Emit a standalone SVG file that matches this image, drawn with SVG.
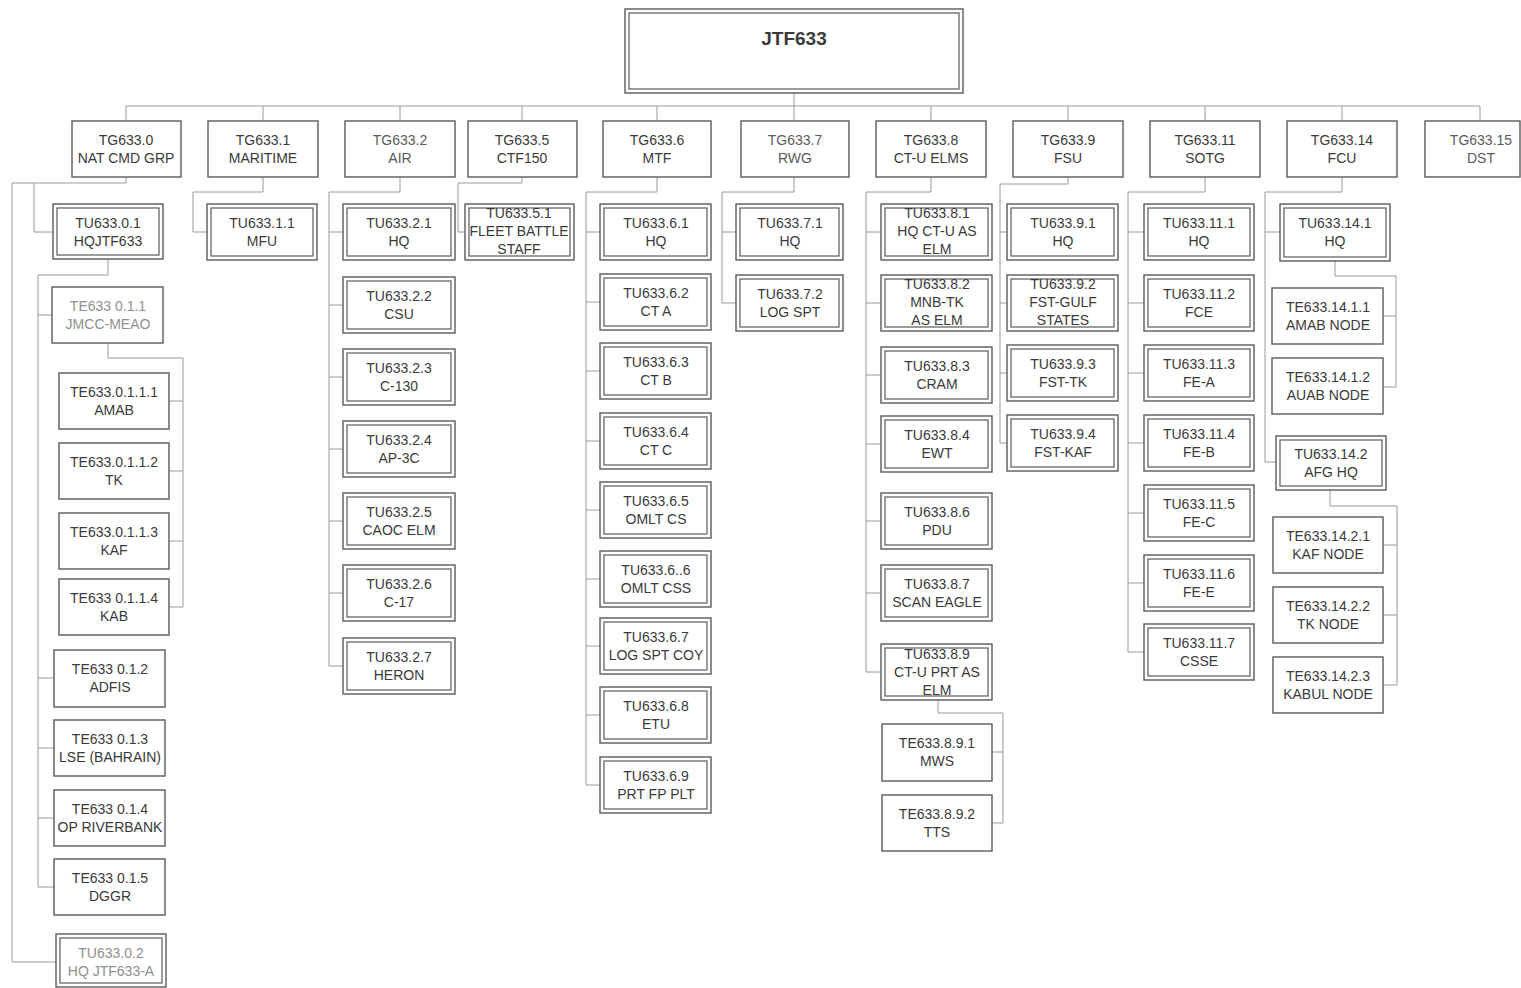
<svg xmlns="http://www.w3.org/2000/svg" width="1521" height="988" viewBox="0 0 1521 988">
<style>
.bg{fill:#ffffff}
rect.b{fill:#ffffff;stroke:#5a5a5a;stroke-width:1.4}
rect.i{fill:none;stroke:#5a5a5a;stroke-width:1.2}
text{font-family:"Liberation Sans",Arial,sans-serif;font-size:14px;fill:#3a3a3a;text-anchor:middle}
text.lt{fill:#8f8f8f}
text.md{fill:#5a5a5a}
text.title{font-size:19px;font-weight:bold;fill:#3a3a3a}
#connectors path{fill:none;stroke:#9a9a9a;stroke-width:1}
</style>
<rect class="bg" x="0" y="0" width="1521" height="988"/>

<g id="connectors">
<path d="M794 93V106M126 106H1480M126 106V121M263 106V121M400 106V121M522 106V121M657 106V121M794 106V121M931 106V121M1068 106V121M1205 106V121M1342 106V121M1480 106V121"/>
<!-- TG633.0 -->
<path d="M126 177V183M12 183H126M12 183V962H56M34 183V232H53"/>
<path d="M108 259V275M38 275H108M38 275V887M38 315H52M38 678H54M38 748H54M38 818H54M38 887H54"/>
<path d="M108 343V358H183V607M169 401H183M169 471H183M169 541H183M169 607H183"/>
<!-- TG633.1 -->
<path d="M263 177V192H193V232H207"/>
<!-- TG633.2 -->
<path d="M400 177V192H329V666M329 232H343M329 305H343M329 377H343M329 449H343M329 521H343M329 593H343M329 666H343"/>
<!-- TG633.5 -->
<path d="M522 177V183H458V232H465"/>
<!-- TG633.6 -->
<path d="M657 177V192H586V785M586 232H600M586 302H600M586 371H600M586 441H600M586 510H600M586 579H600M586 646H600M586 715H600M586 785H600"/>
<!-- TG633.7 -->
<path d="M794 177V192H722V303M722 232H736M722 303H736"/>
<!-- TG633.8 -->
<path d="M931 177V192H866V672M866 232H881M866 303H881M866 375H881M866 444H881M866 521H881M866 593H881M866 672H881"/>
<path d="M938 700V713H1003V823M992 752H1003M992 823H1003"/>
<!-- TG633.9 -->
<path d="M1068 177V184H1000V443M1000 232H1007M1000 303H1007M1000 373H1007M1000 443H1007"/>
<!-- TG633.11 -->
<path d="M1205 177V192H1128V652M1128 232H1144M1128 303H1144M1128 373H1144M1128 443H1144M1128 513H1144M1128 583H1144M1128 652H1144"/>
<!-- TG633.14 -->
<path d="M1342 177V192H1265V462M1265 232H1280M1265 462H1276"/>
<path d="M1335 261V276H1396V387M1383 316H1396M1383 387H1396"/>
<path d="M1330 490V506H1397V685M1383 545H1397M1383 615H1397M1383 685H1397"/>
</g>

<g id="JTF633">
<rect class="b" x="625" y="9" width="338" height="84"/>
<rect class="i" x="629" y="13" width="330" height="76"/>
<text class="title" x="794" y="45">JTF633</text>
</g>

<!-- Task groups -->
<g id="TG633.0"><rect class="b" x="72" y="121" width="109" height="56"/><text x="126" y="145">TG633.0</text><text x="126" y="163">NAT CMD GRP</text></g>
<g id="TG633.1"><rect class="b" x="208" y="121" width="110" height="56"/><text x="263" y="145">TG633.1</text><text x="263" y="163">MARITIME</text></g>
<g id="TG633.2"><rect class="b" x="345" y="121" width="110" height="56"/><text class="md" x="400" y="145">TG633.2</text><text class="md" x="400" y="163">AIR</text></g>
<g id="TG633.5"><rect class="b" x="468" y="121" width="109" height="56"/><text x="522" y="145">TG633.5</text><text x="522" y="163">CTF150</text></g>
<g id="TG633.6"><rect class="b" x="603" y="121" width="108" height="56"/><text x="657" y="145">TG633.6</text><text x="657" y="163">MTF</text></g>
<g id="TG633.7"><rect class="b" x="741" y="121" width="108" height="56"/><text class="md" x="795" y="145">TG633.7</text><text class="md" x="795" y="163">RWG</text></g>
<g id="TG633.8"><rect class="b" x="876" y="121" width="110" height="56"/><text x="931" y="145">TG633.8</text><text x="931" y="163">CT-U ELMS</text></g>
<g id="TG633.9"><rect class="b" x="1013" y="121" width="110" height="56"/><text x="1068" y="145">TG633.9</text><text x="1068" y="163">FSU</text></g>
<g id="TG633.11"><rect class="b" x="1150" y="121" width="110" height="56"/><text x="1205" y="145">TG633.11</text><text x="1205" y="163">SOTG</text></g>
<g id="TG633.14"><rect class="b" x="1287" y="121" width="110" height="56"/><text x="1342" y="145">TG633.14</text><text x="1342" y="163">FCU</text></g>
<g id="TG633.15"><rect class="b" x="1425" y="121" width="95" height="56"/><text class="md" x="1481" y="145">TG633.15</text><text class="md" x="1481" y="163">DST</text></g>

<!-- TG633.0 branch -->
<g id="TU633.0.1"><rect class="b" x="53" y="204" width="110" height="55"/><rect class="i" x="57" y="208" width="102" height="47"/><text x="108" y="228">TU633.0.1</text><text x="108" y="246">HQJTF633</text></g>
<g id="TE633.0.1.1"><rect class="b" x="52" y="287" width="111" height="56"/><text class="lt" x="108" y="311">TE633 0.1.1</text><text class="lt" x="108" y="329">JMCC-MEAO</text></g>
<g id="TE633.0.1.1.1"><rect class="b" x="59" y="373" width="110" height="56"/><text x="114" y="397">TE633.0.1.1.1</text><text x="114" y="415">AMAB</text></g>
<g id="TE633.0.1.1.2"><rect class="b" x="59" y="443" width="110" height="56"/><text x="114" y="467">TE633.0.1.1.2</text><text x="114" y="485">TK</text></g>
<g id="TE633.0.1.1.3"><rect class="b" x="59" y="513" width="110" height="56"/><text x="114" y="537">TE633.0.1.1.3</text><text x="114" y="555">KAF</text></g>
<g id="TE633.0.1.1.4"><rect class="b" x="59" y="579" width="110" height="56"/><text x="114" y="603">TE633 0.1.1.4</text><text x="114" y="621">KAB</text></g>
<g id="TE633.0.1.2"><rect class="b" x="54" y="650" width="111" height="57"/><text x="110" y="674">TE633 0.1.2</text><text x="110" y="692">ADFIS</text></g>
<g id="TE633.0.1.3"><rect class="b" x="54" y="720" width="111" height="56"/><text x="110" y="744">TE633 0.1.3</text><text x="110" y="762">LSE (BAHRAIN)</text></g>
<g id="TE633.0.1.4"><rect class="b" x="54" y="790" width="111" height="56"/><text x="110" y="814">TE633 0.1.4</text><text x="110" y="832">OP RIVERBANK</text></g>
<g id="TE633.0.1.5"><rect class="b" x="54" y="859" width="111" height="56"/><text x="110" y="883">TE633 0.1.5</text><text x="110" y="901">DGGR</text></g>
<g id="TU633.0.2"><rect class="b" x="56" y="934" width="110" height="53"/><rect class="i" x="60" y="938" width="102" height="45"/><text class="lt" x="111" y="958">TU633.0.2</text><text class="lt" x="111" y="976">HQ JTF633-A</text></g>

<!-- TG633.1 -->
<g id="TU633.1.1"><rect class="b" x="207" y="204" width="110" height="56"/><rect class="i" x="211" y="208" width="102" height="48"/><text x="262" y="228">TU633.1.1</text><text x="262" y="246">MFU</text></g>

<!-- TG633.2 -->
<g id="TU633.2.1"><rect class="b" x="343" y="204" width="112" height="56"/><rect class="i" x="347" y="208" width="104" height="48"/><text x="399" y="228">TU633.2.1</text><text x="399" y="246">HQ</text></g>
<g id="TU633.2.2"><rect class="b" x="343" y="277" width="112" height="56"/><rect class="i" x="347" y="281" width="104" height="48"/><text x="399" y="301">TU633.2.2</text><text x="399" y="319">CSU</text></g>
<g id="TU633.2.3"><rect class="b" x="343" y="349" width="112" height="56"/><rect class="i" x="347" y="353" width="104" height="48"/><text x="399" y="373">TU633.2.3</text><text x="399" y="391">C-130</text></g>
<g id="TU633.2.4"><rect class="b" x="343" y="421" width="112" height="56"/><rect class="i" x="347" y="425" width="104" height="48"/><text x="399" y="445">TU633.2.4</text><text x="399" y="463">AP-3C</text></g>
<g id="TU633.2.5"><rect class="b" x="343" y="493" width="112" height="56"/><rect class="i" x="347" y="497" width="104" height="48"/><text x="399" y="517">TU633.2.5</text><text x="399" y="535">CAOC ELM</text></g>
<g id="TU633.2.6"><rect class="b" x="343" y="565" width="112" height="56"/><rect class="i" x="347" y="569" width="104" height="48"/><text x="399" y="589">TU633.2.6</text><text x="399" y="607">C-17</text></g>
<g id="TU633.2.7"><rect class="b" x="343" y="638" width="112" height="56"/><rect class="i" x="347" y="642" width="104" height="48"/><text x="399" y="662">TU633.2.7</text><text x="399" y="680">HERON</text></g>

<!-- TG633.5 -->
<g id="TU633.5.1"><rect class="b" x="465" y="204" width="109" height="56"/><rect class="i" x="469" y="208" width="101" height="48"/><text x="519" y="218">TU633.5.1</text><text x="519" y="236">FLEET BATTLE</text><text x="519" y="254">STAFF</text></g>

<!-- TG633.6 -->
<g id="TU633.6.1"><rect class="b" x="600" y="204" width="111" height="56"/><rect class="i" x="604" y="208" width="103" height="48"/><text x="656" y="228">TU633.6.1</text><text x="656" y="246">HQ</text></g>
<g id="TU633.6.2"><rect class="b" x="600" y="274" width="111" height="56"/><rect class="i" x="604" y="278" width="103" height="48"/><text x="656" y="298">TU633.6.2</text><text x="656" y="316">CT A</text></g>
<g id="TU633.6.3"><rect class="b" x="600" y="343" width="111" height="56"/><rect class="i" x="604" y="347" width="103" height="48"/><text x="656" y="367">TU633.6.3</text><text x="656" y="385">CT B</text></g>
<g id="TU633.6.4"><rect class="b" x="600" y="413" width="111" height="56"/><rect class="i" x="604" y="417" width="103" height="48"/><text x="656" y="437">TU633.6.4</text><text x="656" y="455">CT C</text></g>
<g id="TU633.6.5"><rect class="b" x="600" y="482" width="111" height="56"/><rect class="i" x="604" y="486" width="103" height="48"/><text x="656" y="506">TU633.6.5</text><text x="656" y="524">OMLT CS</text></g>
<g id="TU633.6.6"><rect class="b" x="600" y="551" width="111" height="56"/><rect class="i" x="604" y="555" width="103" height="48"/><text x="656" y="575">TU633.6..6</text><text x="656" y="593">OMLT CSS</text></g>
<g id="TU633.6.7"><rect class="b" x="600" y="618" width="111" height="56"/><rect class="i" x="604" y="622" width="103" height="48"/><text x="656" y="642">TU633.6.7</text><text x="656" y="660">LOG SPT COY</text></g>
<g id="TU633.6.8"><rect class="b" x="600" y="687" width="111" height="56"/><rect class="i" x="604" y="691" width="103" height="48"/><text x="656" y="711">TU633.6.8</text><text x="656" y="729">ETU</text></g>
<g id="TU633.6.9"><rect class="b" x="600" y="757" width="111" height="56"/><rect class="i" x="604" y="761" width="103" height="48"/><text x="656" y="781">TU633.6.9</text><text x="656" y="799">PRT FP PLT</text></g>

<!-- TG633.7 -->
<g id="TU633.7.1"><rect class="b" x="736" y="204" width="107" height="56"/><rect class="i" x="740" y="208" width="99" height="48"/><text x="790" y="228">TU633.7.1</text><text x="790" y="246">HQ</text></g>
<g id="TU633.7.2"><rect class="b" x="736" y="275" width="107" height="56"/><rect class="i" x="740" y="279" width="99" height="48"/><text x="790" y="299">TU633.7.2</text><text x="790" y="317">LOG SPT</text></g>

<!-- TG633.8 -->
<g id="TU633.8.1"><rect class="b" x="881" y="204" width="111" height="56"/><rect class="i" x="885" y="208" width="103" height="48"/><text x="937" y="218">TU633.8.1</text><text x="937" y="236">HQ CT-U AS</text><text x="937" y="254">ELM</text></g>
<g id="TU633.8.2"><rect class="b" x="881" y="275" width="111" height="56"/><rect class="i" x="885" y="279" width="103" height="48"/><text x="937" y="289">TU633.8.2</text><text x="937" y="307">MNB-TK</text><text x="937" y="325">AS ELM</text></g>
<g id="TU633.8.3"><rect class="b" x="881" y="347" width="111" height="56"/><rect class="i" x="885" y="351" width="103" height="48"/><text x="937" y="371">TU633.8.3</text><text x="937" y="389">CRAM</text></g>
<g id="TU633.8.4"><rect class="b" x="881" y="416" width="111" height="56"/><rect class="i" x="885" y="420" width="103" height="48"/><text x="937" y="440">TU633.8.4</text><text x="937" y="458">EWT</text></g>
<g id="TU633.8.6"><rect class="b" x="881" y="493" width="111" height="56"/><rect class="i" x="885" y="497" width="103" height="48"/><text x="937" y="517">TU633.8.6</text><text x="937" y="535">PDU</text></g>
<g id="TU633.8.7"><rect class="b" x="881" y="565" width="111" height="56"/><rect class="i" x="885" y="569" width="103" height="48"/><text x="937" y="589">TU633.8.7</text><text x="937" y="607">SCAN EAGLE</text></g>
<g id="TU633.8.9"><rect class="b" x="881" y="644" width="111" height="56"/><rect class="i" x="885" y="648" width="103" height="48"/><text x="937" y="659">TU633.8.9</text><text x="937" y="677">CT-U PRT AS</text><text x="937" y="695">ELM</text></g>
<g id="TE633.8.9.1"><rect class="b" x="882" y="724" width="110" height="57"/><text x="937" y="748">TE633.8.9.1</text><text x="937" y="766">MWS</text></g>
<g id="TE633.8.9.2"><rect class="b" x="882" y="795" width="110" height="56"/><text x="937" y="819">TE633.8.9.2</text><text x="937" y="837">TTS</text></g>

<!-- TG633.9 -->
<g id="TU633.9.1"><rect class="b" x="1007" y="204" width="111" height="56"/><rect class="i" x="1011" y="208" width="103" height="48"/><text x="1063" y="228">TU633.9.1</text><text x="1063" y="246">HQ</text></g>
<g id="TU633.9.2"><rect class="b" x="1007" y="275" width="111" height="56"/><rect class="i" x="1011" y="279" width="103" height="48"/><text x="1063" y="289">TU633.9.2</text><text x="1063" y="307">FST-GULF</text><text x="1063" y="325">STATES</text></g>
<g id="TU633.9.3"><rect class="b" x="1007" y="345" width="111" height="56"/><rect class="i" x="1011" y="349" width="103" height="48"/><text x="1063" y="369">TU633.9.3</text><text x="1063" y="387">FST-TK</text></g>
<g id="TU633.9.4"><rect class="b" x="1007" y="415" width="111" height="56"/><rect class="i" x="1011" y="419" width="103" height="48"/><text x="1063" y="439">TU633.9.4</text><text x="1063" y="457">FST-KAF</text></g>

<!-- TG633.11 -->
<g id="TU633.11.1"><rect class="b" x="1144" y="204" width="110" height="56"/><rect class="i" x="1148" y="208" width="102" height="48"/><text x="1199" y="228">TU633.11.1</text><text x="1199" y="246">HQ</text></g>
<g id="TU633.11.2"><rect class="b" x="1144" y="275" width="110" height="56"/><rect class="i" x="1148" y="279" width="102" height="48"/><text x="1199" y="299">TU633.11.2</text><text x="1199" y="317">FCE</text></g>
<g id="TU633.11.3"><rect class="b" x="1144" y="345" width="110" height="56"/><rect class="i" x="1148" y="349" width="102" height="48"/><text x="1199" y="369">TU633.11.3</text><text x="1199" y="387">FE-A</text></g>
<g id="TU633.11.4"><rect class="b" x="1144" y="415" width="110" height="56"/><rect class="i" x="1148" y="419" width="102" height="48"/><text x="1199" y="439">TU633.11.4</text><text x="1199" y="457">FE-B</text></g>
<g id="TU633.11.5"><rect class="b" x="1144" y="485" width="110" height="56"/><rect class="i" x="1148" y="489" width="102" height="48"/><text x="1199" y="509">TU633.11.5</text><text x="1199" y="527">FE-C</text></g>
<g id="TU633.11.6"><rect class="b" x="1144" y="555" width="110" height="56"/><rect class="i" x="1148" y="559" width="102" height="48"/><text x="1199" y="579">TU633.11.6</text><text x="1199" y="597">FE-E</text></g>
<g id="TU633.11.7"><rect class="b" x="1144" y="624" width="110" height="56"/><rect class="i" x="1148" y="628" width="102" height="48"/><text x="1199" y="648">TU633.11.7</text><text x="1199" y="666">CSSE</text></g>

<!-- TG633.14 -->
<g id="TU633.14.1"><rect class="b" x="1280" y="204" width="110" height="57"/><rect class="i" x="1284" y="208" width="102" height="49"/><text x="1335" y="228">TU633.14.1</text><text x="1335" y="246">HQ</text></g>
<g id="TE633.14.1.1"><rect class="b" x="1272" y="288" width="111" height="56"/><text x="1328" y="312">TE633.14.1.1</text><text x="1328" y="330">AMAB NODE</text></g>
<g id="TE633.14.1.2"><rect class="b" x="1272" y="358" width="111" height="56"/><text x="1328" y="382">TE633.14.1.2</text><text x="1328" y="400">AUAB NODE</text></g>
<g id="TU633.14.2"><rect class="b" x="1276" y="436" width="110" height="54"/><rect class="i" x="1280" y="440" width="102" height="46"/><text x="1331" y="459">TU633.14.2</text><text x="1331" y="477">AFG HQ</text></g>
<g id="TE633.14.2.1"><rect class="b" x="1273" y="517" width="110" height="56"/><text x="1328" y="541">TE633.14.2.1</text><text x="1328" y="559">KAF NODE</text></g>
<g id="TE633.14.2.2"><rect class="b" x="1273" y="587" width="110" height="56"/><text x="1328" y="611">TE633.14.2.2</text><text x="1328" y="629">TK NODE</text></g>
<g id="TE633.14.2.3"><rect class="b" x="1273" y="657" width="110" height="56"/><text x="1328" y="681">TE633.14.2.3</text><text x="1328" y="699">KABUL NODE</text></g>
</svg>
